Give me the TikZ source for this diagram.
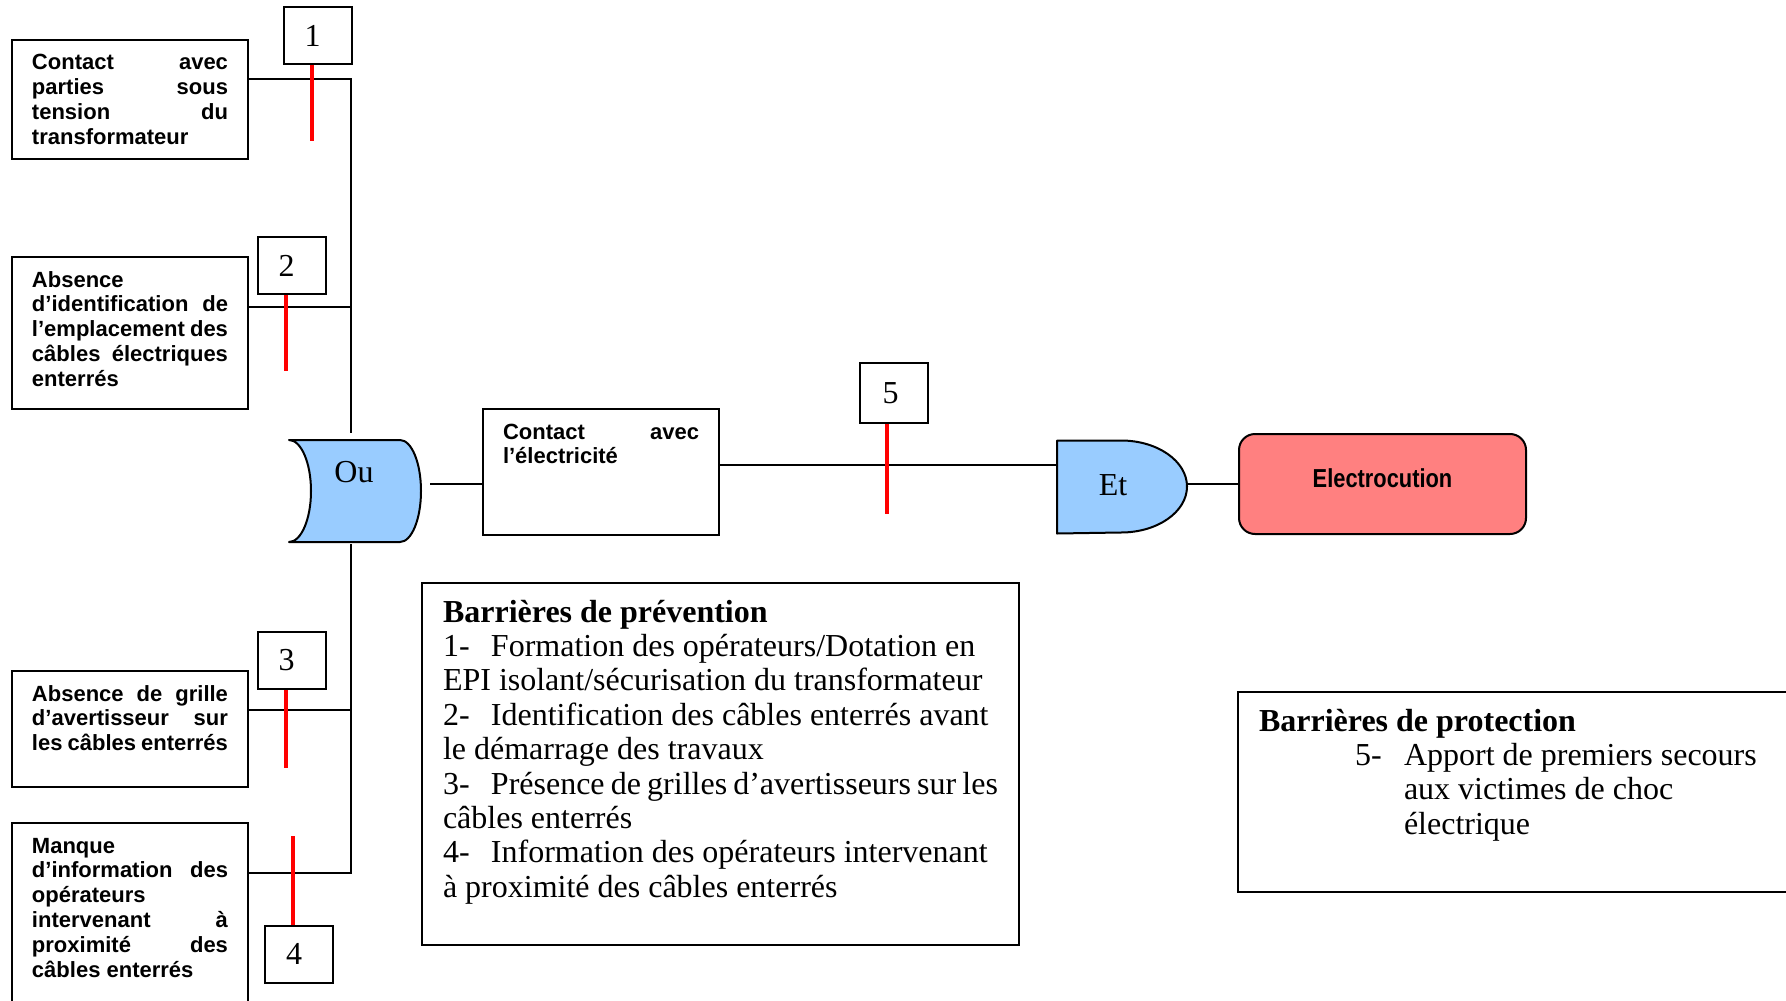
\documentclass[tikz,border=0pt]{standalone}
\usepackage{fontspec}
\setmainfont{Liberation Serif}
\setsansfont{Liberation Sans}
\usepackage{graphicx}
\usetikzlibrary{calc}
\definecolor{gateblue}{HTML}{99CCFF}
\definecolor{eventred}{HTML}{FF8080}
\hbadness=10000
\hfuzz=4pt

\tikzset{
  cause/.style={draw, line width=1pt, anchor=north west, inner xsep=10pt, inner ysep=0pt,
    font=\fontsize{11}{12.4}\selectfont\sffamily\bfseries},
  numbox/.style={draw, line width=1pt, minimum width=34pt, minimum height=28.5pt, inner sep=0pt,
    font=\fontsize{16}{18}\selectfont},
  barrier/.style={red, line width=2.2pt},
  wire/.style={line width=0.8pt},
  gateshape/.style={draw, line width=1pt, line join=round, fill=gateblue},
  gatebox/.style={inner sep=0pt},
  gatelabel/.style={inner sep=0pt, font=\fontsize{16}{18}\selectfont},
  infobox/.style={draw, line width=1pt, anchor=north west, inner xsep=10.5pt, inner ysep=0pt,
    font=\fontsize{16}{17.2}\selectfont},
}
% justified cause text, first baseline 15pt below the top edge
\newcommand\causetext[2]{\parbox[c][#1][t]{98pt}{\rule{0pt}{15pt}#2}}
\newcommand\itemno[1]{\makebox[24pt][l]{#1}}
% barrier number, set a little left of the box centre
\newcommand\barno[1]{\kern-5pt #1}

\begin{document}
\begin{tikzpicture}[x=0.5pt, y=0.5pt]
\useasboundingbox (0,0) rectangle (1786,-1000);
\clip (0,0) rectangle (1786,-1000);

% basic events
\node[cause] (cA) at (11,-39) {\causetext{59.5pt}{Contact avec\linebreak parties sous\linebreak tension du\linebreak transformateur}};
\node[cause] (cB) at (11,-256) {\causetext{76pt}{Absence\linebreak d’identification de\linebreak l’emplacement des\linebreak câbles électriques\linebreak enterrés}};
\node[cause] (cC) at (11,-670) {\causetext{58pt}{Absence de grille\linebreak d’avertisseur sur\linebreak les câbles enterrés}};
\node[cause] (cD) at (11,-822) {\causetext{96pt}{Manque\linebreak d’information des\linebreak opérateurs\linebreak intervenant à\linebreak proximité des\linebreak câbles enterrés}};

% intermediate event
\node[cause] (cE) at (482,-408) {\causetext{63pt}{Contact avec\linebreak l’électricité}};

% OR gate
\node[gatebox, minimum width=66pt, minimum height=51pt] (or) at (355,-491) {};
\draw[gateshape] (289,-440) -- (400,-440)
  arc[start angle=90, end angle=-90, x radius=10.5pt, y radius=25.5pt]
  -- (289,-542)
  arc[start angle=-90, end angle=90, x radius=11pt, y radius=25.5pt] -- cycle;
\node[gatelabel] (orlbl) at (354,-472) {Ou};

% AND gate
\node[gatebox, minimum width=65pt, minimum height=46.5pt] (and) at (1122,-487) {};
\draw[gateshape] (1057,-440.5) -- (1121,-440.5)
  arc[start angle=90, end angle=-90, x radius=33pt, y radius=23pt]
  -- (1057,-533.5) -- cycle;
\node[gatelabel] (andlbl) at (1113,-485) {Et};

% top event
\node[draw, line width=1pt, fill=eventred, rounded corners=8pt, minimum width=143.5pt,
  minimum height=50pt, inner sep=0pt] (ev) at (1382.5,-484) {};
\node[inner sep=0pt, font=\fontsize{13}{15}\selectfont\sffamily\bfseries] (evlbl) at (1382.5,-478)
  {\scalebox{0.84}[1]{Electrocution}};

% connections into the OR gate
\coordinate (busA) at (351,-79);
\coordinate (busB) at (351,-307);
\coordinate (busC) at (351,-710);
\coordinate (busD) at (351,-873);
\draw[wire] (cA.east |- busA) -- (busA) -- ([yshift=3.5pt]busA |- or.north);
\draw[wire] (cB.east |- busB) -- (busB);
\draw[wire] (cC.east |- busC) -- (busC);
\draw[wire] (cD.east |- busD) -- (busD) -- ([yshift=-1pt]busD |- or.south);

% OR gate -> intermediate event -> AND gate -> top event
\coordinate (orOut) at (430,-484);
\coordinate (link) at (800,-465);
\draw[wire] (orOut) -- (orOut -| cE.west);
\draw[wire] (cE.east |- link) -- (and.west |- link);
\draw[wire] (and.east |- ev.west) -- (ev.west);

% barriers
\node[numbox] (n1) at (317.5,-35.5) {\barno{1}};
\node[numbox] (n2) at (291.5,-265.5) {\barno{2}};
\node[numbox] (n3) at (291.5,-660.5) {\barno{3}};
\node[numbox] (n4) at (299,-954) {\barno{4}};
\node[numbox, minimum height=30pt] (n5) at (894,-393) {\kern-3.5pt 5};
\draw[barrier] ([xshift=-2.75pt]n1.south) -- ++(0,-76);
\draw[barrier] ([xshift=-2.75pt]n2.south) -- ++(0,-76);
\draw[barrier] ([xshift=-2.75pt]n3.south) -- ++(0,-78);
\draw[barrier] ([xshift=-3pt]n4.north) -- ++(0,88.5);
\draw[barrier] ([xshift=-3.5pt]n5.south) -- ++(0,-90);

% legends
\node[infobox] (prev) at (421,-582) {\parbox[c][181pt][t]{277.5pt}{\rule{0pt}{19.5pt}\textbf{Barrières de prévention}\\
\itemno{1-}Formation des opérateurs/Dotation en\\
EPI isolant/sécurisation du transformateur\\
\itemno{2-}Identification des câbles enterrés avant\\
le démarrage des travaux\\
\itemno{3-}Présence de grilles d’avertisseurs sur les\\
câbles enterrés\\
\itemno{4-}Information des opérateurs intervenant\\
à proximité des câbles enterrés}};

\node[infobox] (prot) at (1237,-691) {\parbox[c][100pt][t]{253.5pt}{\rule{0pt}{19.5pt}\textbf{Barrières de protection}\\
\hspace*{48pt}\makebox[24.5pt][l]{5-}Apport de premiers secours\\
\hspace*{72.5pt}aux victimes de choc\\
\hspace*{72.5pt}électrique}};
\end{tikzpicture}
\end{document}
